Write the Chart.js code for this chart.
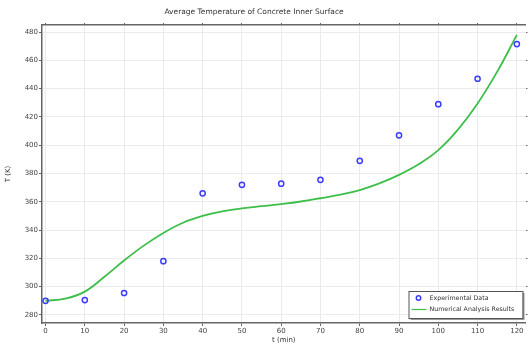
<!DOCTYPE html>
<html>
<head>
<meta charset="utf-8">
<script src="https://cdn.jsdelivr.net/npm/chart.js@4.4.1/dist/chart.umd.min.js"></script>
<style>
  html, body { margin: 0; padding: 0; background: #fff; }
  #wrap { width: 531px; height: 345px; position: relative; }
</style>
</head>
<body>
<div id="wrap"><canvas id="temp-chart"></canvas></div>
<script>
var chartTitle = 'Average Temperature of Concrete Inner Surface';
var seriesNames = ['Experimental Data', 'Numerical Analysis Results'];

// experimental points
var expTimes = [0, 10, 20, 30, 40, 50, 60, 70, 80, 90, 100, 110, 120];
var expTemps = [290, 290.5, 295.5, 318, 366, 372, 372.8, 375.5, 389, 407, 429, 447, 471.5];

// numerical curve (read every 5 min)
var simTimes = [0, 5, 10, 15, 20, 25, 30, 35, 40, 45, 50, 55, 60, 65, 70, 75, 80, 85, 90, 95, 100, 105, 110, 115, 120];
var simTemps = [290, 291.5, 296.5, 307, 318.5, 329, 338, 345.2, 350, 353.2, 355.3, 356.9, 358.4, 360.2, 362.5, 365, 368.3, 373, 379, 386.5, 396.5, 411, 429.5, 452, 478];

var xTicks = [0, 10, 20, 30, 40, 50, 60, 70, 80, 90, 100, 110, 120];
var yTicks = [280, 300, 320, 340, 360, 380, 400, 420, 440, 460, 480];

var blue = '#3c3cff';
var green = '#3dbf4a';
var axisColor = '#666666';
var gridColor = '#ebebeb';
var fontFamily = 'DejaVu Sans';

function toPoints(xs, ys) {
  return xs.map(function(x, i) { return {x: x, y: ys[i]}; });
}

function keepTicks(list) {
  return function(scale) {
    scale.ticks = list.map(function(v) { return {value: v}; });
  };
}

var titlePlugin = {
  id: 'comsolTitle',
  afterDraw: function(chart) {
    var ctx = chart.ctx;
    ctx.save();
    ctx.font = '7.5px ' + fontFamily;
    ctx.fillStyle = '#333';
    ctx.textAlign = 'center';
    ctx.textBaseline = 'middle';
    ctx.fillText(chartTitle, 254, 12);
    ctx.restore();
  }
};

var legendPlugin = {
  id: 'boxLegend',
  afterDraw: function(chart) {
    var ctx = chart.ctx;
    var area = chart.chartArea;
    var w = 114, h = 27;
    var x = area.right - 3 - w;
    var y = area.bottom - 5 - h;
    ctx.save();
    ctx.fillStyle = '#9a9a9a';
    ctx.fillRect(x + 2, y + 2, w, h);
    ctx.fillStyle = '#fff';
    ctx.fillRect(x, y, w, h);
    ctx.strokeStyle = '#555';
    ctx.lineWidth = 1;
    ctx.strokeRect(x + 0.5, y + 0.5, w, h);

    ctx.font = '6.3px ' + fontFamily;
    ctx.fillStyle = '#333';
    ctx.textBaseline = 'middle';
    ctx.textAlign = 'left';

    var ds0 = chart.data.datasets[0];
    ctx.strokeStyle = ds0.borderColor;
    ctx.lineWidth = 1.5;
    ctx.beginPath();
    ctx.arc(x + 10, y + 7, 2.2, 0, Math.PI * 2);
    ctx.stroke();
    ctx.fillText(ds0.label, x + 21, y + 7);

    var ds1 = chart.data.datasets[1];
    ctx.strokeStyle = ds1.borderColor;
    ctx.lineWidth = 1.2;
    ctx.beginPath();
    ctx.moveTo(x + 3, y + 18.5);
    ctx.lineTo(x + 18, y + 18.5);
    ctx.stroke();
    ctx.fillText(ds1.label, x + 21, y + 18.5);
    ctx.restore();
  }
};

var ctx = document.getElementById('temp-chart');
var chart = new Chart(ctx, {
  type: 'scatter',
  data: {
    datasets: [{
      label: seriesNames[0],
      data: toPoints(expTimes, expTemps),
      borderColor: blue,
      backgroundColor: 'rgba(255,255,255,0)',
      pointRadius: 2.6,
      pointBorderWidth: 1.5,
      order: 0
    }, {
      label: seriesNames[1],
      data: toPoints(simTimes, simTemps),
      showLine: true,
      borderColor: green,
      borderWidth: 1.8,
      pointRadius: 0,
      tension: 0.4,
      order: 1
    }]
  },
  options: {
    responsive: true,
    maintainAspectRatio: false,
    animation: false,
    layout: { padding: { top: 22, right: 0, left: 0, bottom: 0 } },
    plugins: {
      legend: { display: false },
      tooltip: { enabled: false }
    },
    scales: {
      x: {
        type: 'linear',
        position: 'bottom',
        min: -0.9,
        max: 122.2,
        afterBuildTicks: keepTicks(xTicks),
        afterFit: function(s) { s.height = 22; },
        grid: { color: gridColor, tickColor: axisColor, tickLength: 3 },
        border: { color: axisColor, width: 1.5 },
        ticks: { color: '#444', font: { family: fontFamily, size: 7 }, padding: 1, maxRotation: 0 },
        title: { display: true, text: 't (min)', color: '#333', font: { family: fontFamily, size: 7 }, padding: { top: 0, bottom: 1 } }
      },
      x2: {
        type: 'linear',
        position: 'top',
        min: -0.9,
        max: 122.2,
        afterBuildTicks: keepTicks(xTicks),
        afterFit: function(s) { s.height = 3; },
        grid: { drawOnChartArea: false, tickColor: axisColor, tickLength: 2 },
        border: { color: axisColor, width: 1.5 },
        ticks: { display: false }
      },
      y: {
        type: 'linear',
        position: 'left',
        min: 274.3,
        max: 485,
        afterBuildTicks: keepTicks(yTicks),
        afterFit: function(s) { s.width = 42; },
        grid: { color: gridColor, tickColor: axisColor, tickLength: 3 },
        border: { color: axisColor, width: 1.5 },
        ticks: { color: '#444', font: { family: fontFamily, size: 7 }, padding: 1 },
        title: { display: true, text: 'T (K)', color: '#333', font: { family: fontFamily, size: 7 }, padding: { top: 4, bottom: 0 } }
      },
      y2: {
        type: 'linear',
        position: 'right',
        min: 274.3,
        max: 485,
        afterBuildTicks: keepTicks(yTicks),
        afterFit: function(s) { s.width = 2; },
        grid: { drawOnChartArea: false, tickColor: axisColor, tickLength: 2 },
        border: { display: false },
        ticks: { display: false }
      }
    }
  },
  plugins: [titlePlugin, legendPlugin]
});
</script>
</body>
</html>
